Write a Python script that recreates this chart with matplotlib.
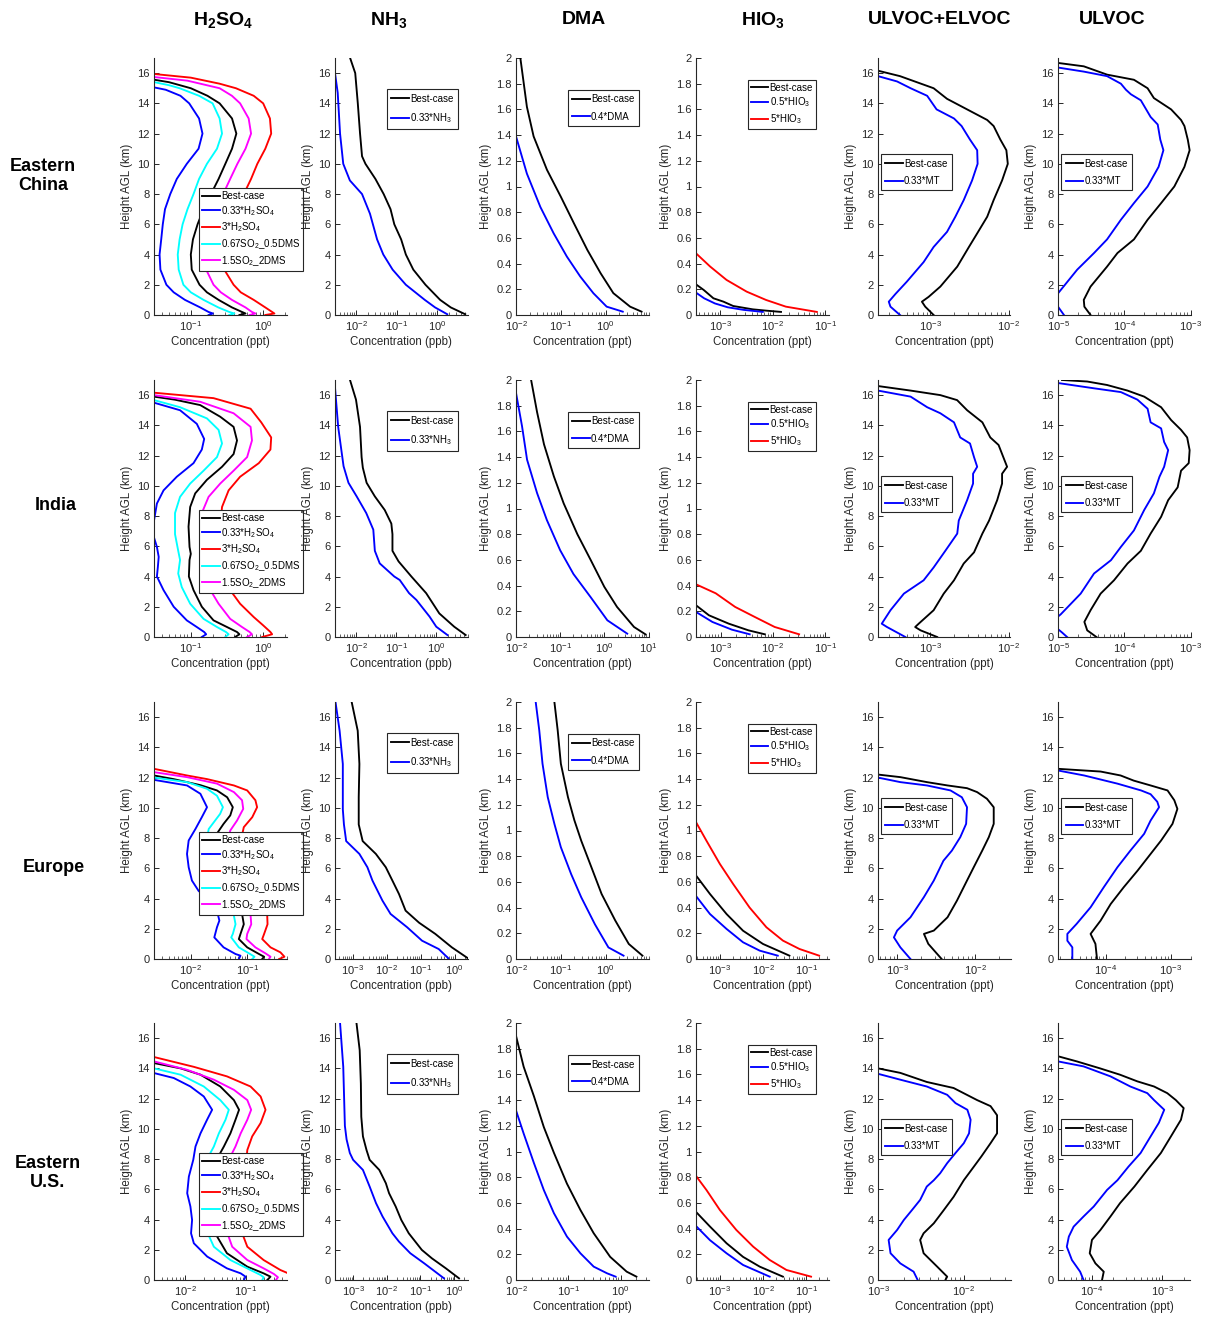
import numpy as np
import matplotlib
matplotlib.use('Agg')
import matplotlib.pyplot as plt
from matplotlib.ticker import LogLocator, NullFormatter, FixedLocator, FuncFormatter

plt.rcParams['font.family'] = ['Liberation Sans', 'DejaVu Sans']
plt.rcParams['mathtext.fontset'] = 'custom'
plt.rcParams['mathtext.rm'] = 'Liberation Sans'
plt.rcParams['mathtext.it'] = 'Liberation Sans:italic'
plt.rcParams['mathtext.bf'] = 'Liberation Sans:bold'
plt.rcParams['mathtext.default'] = 'regular'

# ---------------- labels ----------------
regions = ['Eastern\nChina', 'India', 'Europe', 'Eastern\nU.S.']
species = [r'$\mathbf{H_2SO_4}$', r'$\mathbf{NH_3}$', 'DMA', r'$\mathbf{HIO_3}$', 'ULVOC+ELVOC', 'ULVOC']
units = ['ppt', 'ppb', 'ppt', 'ppt', 'ppt', 'ppt']
sa_labels = ['Best-case', '0.33*H$_2$SO$_4$', '3*H$_2$SO$_4$', '0.67SO$_2$_0.5DMS', '1.5SO$_2$_2DMS']
nh3_labels = ['Best-case', '0.33*NH$_3$']
dma_labels = ['Best-case', '0.4*DMA']
hio3_labels = ['Best-case', '0.5*HIO$_3$', '5*HIO$_3$']
mt_labels = ['Best-case', '0.33*MT']

# ================= Row 1: Eastern China =================
ec_sa_best_h = [15.6, 15.4, 15.0, 14.5, 14, 13, 12, 11, 10, 9, 8, 7, 6, 5, 4, 3, 2, 1.5, 1, 0.5, 0.2, 0.1, 0]
ec_sa_best_c = [0.028, 0.05, 0.10, 0.17, 0.25, 0.371, 0.426, 0.371, 0.30, 0.242, 0.19, 0.15, 0.124, 0.107, 0.10, 0.103, 0.132, 0.167, 0.242, 0.371, 0.51, 0.57, 0.47]
ec_sa_low_h = [15.1, 14.9, 14.5, 14, 13, 12, 11, 10, 9, 8, 7, 6, 5, 4, 3, 2, 1.5, 1, 0.5, 0.2, 0.1, 0]
ec_sa_low_c = [0.028, 0.045, 0.072, 0.095, 0.13, 0.145, 0.128, 0.088, 0.064, 0.052, 0.044, 0.041, 0.039, 0.037, 0.038, 0.046, 0.058, 0.083, 0.135, 0.176, 0.202, 0.176]
ec_sa_high_h = [15.95, 15.7, 15.3, 15.0, 14.5, 14, 13, 12, 11, 10, 9, 8, 7, 6, 5, 4, 3, 2, 1.5, 1, 0.5, 0.2, 0.1, 0]
ec_sa_high_c = [0.03, 0.1, 0.25, 0.42, 0.74, 1.0, 1.24, 1.29, 1.07, 0.83, 0.68, 0.54, 0.44, 0.37, 0.32, 0.29, 0.29, 0.39, 0.49, 0.74, 1.07, 1.33, 1.43, 1.07]
ec_sa_so2lo_h = [15.45, 15.2, 15.0, 14.5, 14, 13, 12, 11, 10, 9, 8, 7, 6, 5, 4, 3, 2, 1.5, 1, 0.5, 0.2, 0.1, 0]
ec_sa_so2lo_c = [0.028, 0.05, 0.07, 0.13, 0.2, 0.25, 0.27, 0.23, 0.167, 0.13, 0.109, 0.09, 0.077, 0.07, 0.066, 0.068, 0.079, 0.1, 0.15, 0.24, 0.34, 0.40, 0.34]
ec_sa_so2hi_h = [15.75, 15.5, 15.0, 14.5, 14, 13, 12, 11, 10, 9, 8, 7, 6, 5, 4, 3, 2, 1.5, 1, 0.5, 0.2, 0.1, 0]
ec_sa_so2hi_c = [0.03, 0.09, 0.25, 0.37, 0.48, 0.63, 0.68, 0.57, 0.44, 0.35, 0.28, 0.23, 0.185, 0.158, 0.15, 0.163, 0.206, 0.26, 0.37, 0.57, 0.70, 0.78, 0.65]

ec_nh3_best_h = [17, 16, 14, 12, 10.5, 10, 9, 8, 7, 6, 5, 4, 3, 2, 1, 0.5, 0.05]
ec_nh3_best_c = [0.0071, 0.0095, 0.011, 0.0125, 0.014, 0.017, 0.03, 0.048, 0.071, 0.088, 0.13, 0.17, 0.26, 0.52, 1.2, 2.2, 5.0]
ec_nh3_low_h = [16.5, 16, 14.7, 12, 10, 8.9, 8, 6.7, 5, 4, 3, 2, 1, 0.5, 0.05]
ec_nh3_low_c = [0.0025, 0.003, 0.0035, 0.004, 0.0048, 0.007, 0.014, 0.022, 0.033, 0.047, 0.08, 0.17, 0.5, 0.9, 1.8]

ec_dma_best_h = [2.0, 1.62, 1.39, 1.13, 0.92, 0.71, 0.506, 0.325, 0.17, 0.065, 0.026]
ec_dma_best_c = [0.0125, 0.0175, 0.0247, 0.049, 0.1, 0.198, 0.39, 0.77, 1.48, 3.5, 6.3]
ec_dma_low_h = [1.45, 1.39, 1.1, 0.84, 0.636, 0.455, 0.3, 0.17, 0.065, 0.026]
ec_dma_low_c = [0.009, 0.01, 0.0175, 0.035, 0.069, 0.136, 0.27, 0.53, 1.05, 2.4]

ec_hio3_best_h = [0.25, 0.195, 0.13, 0.104, 0.07, 0.044, 0.034, 0.024]
ec_hio3_best_c = [3.2e-4, 4.9e-4, 7.5e-4, 1.16e-3, 1.78e-3, 4.2e-3, 7.5e-3, 0.0144]
ec_hio3_low_h = [0.185, 0.13, 0.09, 0.06, 0.04, 0.024]
ec_hio3_low_c = [3.2e-4, 5e-4, 8e-4, 1.4e-3, 2.8e-3, 6.5e-3]
ec_hio3_high_h = [0.49, 0.48, 0.377, 0.273, 0.182, 0.117, 0.065, 0.024]
ec_hio3_high_c = [3.3e-4, 3.5e-4, 6.5e-4, 1.33e-3, 3.2e-3, 7.5e-3, 0.0178, 0.069]

ec_ue_best_h = [16.2, 15.8, 15.0, 14.3, 13.6, 12.9, 12.5, 11.6, 10.9, 10.0, 8.9, 7.6, 6.5, 5.4, 4.5, 3.2, 1.88, 1.2, 0.88, 0.55, 0]
ec_ue_best_c = [2.0e-4, 4.1e-4, 1.1e-3, 1.63e-3, 2.94e-3, 5.3e-3, 6.4e-3, 7.8e-3, 9.3e-3, 9.7e-3, 8.2e-3, 6.4e-3, 5.3e-3, 3.95e-3, 3.1e-3, 2.2e-3, 1.34e-3, 9.5e-4, 7.8e-4, 8.6e-4, 1.1e-3]
ec_ue_low_h = [15.9, 15.8, 15.45, 15.0, 14.5, 13.6, 13.0, 12.5, 11.6, 10.9, 10.0, 8.9, 7.6, 6.5, 5.5, 4.5, 3.5, 2.2, 1.4, 0.88, 0.55, 0]
ec_ue_low_c = [2.0e-4, 2.15e-4, 3.76e-4, 5.6e-4, 9.1e-4, 1.2e-3, 2.0e-3, 2.5e-3, 3.2e-3, 3.95e-3, 4.0e-3, 3.4e-3, 2.66e-3, 2.08e-3, 1.63e-3, 1.1e-3, 8.2e-4, 5.0e-4, 3.6e-4, 2.95e-4, 3.1e-4, 4.1e-4]

ec_u_best_h = [16.7, 16.45, 15.9, 15.56, 15.0, 14.35, 13.6, 12.9, 12.5, 11.6, 10.9, 9.8, 8.5, 7.4, 6.3, 5.0, 4.1, 3.2, 1.88, 1.0, 0.55, 0]
ec_u_best_c = [9e-6, 2.45e-5, 5.5e-5, 1.4e-4, 2.25e-4, 2.8e-4, 5.1e-4, 7.2e-4, 8.1e-4, 9.1e-4, 9.7e-4, 8.1e-4, 5.7e-4, 3.6e-4, 2.25e-4, 1.4e-4, 7.9e-5, 5.5e-5, 3.1e-5, 2.45e-5, 2.5e-5, 3.1e-5]
ec_u_low_h = [16.4, 16.1, 15.8, 15.3, 14.9, 14.6, 14.2, 13.1, 12.6, 11.6, 10.9, 9.8, 8.5, 7.4, 6.3, 5.0, 4.1, 3.0, 1.43, 1.0, 0.55, 0]
ec_u_low_c = [9e-6, 2.45e-5, 5.5e-5, 8.9e-5, 1.06e-4, 1.26e-4, 1.78e-4, 2.5e-4, 3.2e-4, 3.5e-4, 3.9e-4, 3.3e-4, 2.25e-4, 1.4e-4, 8.9e-5, 5.5e-5, 3.5e-5, 1.95e-5, 1.0e-5, 8.5e-6, 1.0e-5, 1.23e-5]

# ================= Row 2: India =================
in_sa_best_h = [16.0, 15.9, 15.7, 15.34, 14.57, 13.9, 13.0, 12.1, 11.26, 10.4, 9.5, 8.6, 7.3, 5.96, 5.5, 5.1, 4.0, 3.1, 2.0, 1.1, 0.66, 0.33, 0.18, 0]
in_sa_best_c = [0.025, 0.031, 0.06, 0.135, 0.255, 0.39, 0.435, 0.39, 0.27, 0.167, 0.115, 0.098, 0.093, 0.096, 0.1, 0.096, 0.094, 0.109, 0.142, 0.206, 0.316, 0.435, 0.47, 0.41]
in_sa_low_h = [15.6, 15.5, 15.0, 14.1, 13.1, 12.4, 11.5, 10.6, 9.7, 8.83, 7.7, 6.8, 5.96, 5.3, 4.6, 4.0, 3.1, 2.0, 1.1, 0.66, 0.33, 0.18, 0]
in_sa_low_c = [0.025, 0.031, 0.071, 0.121, 0.153, 0.142, 0.109, 0.064, 0.042, 0.034, 0.031, 0.030, 0.034, 0.036, 0.035, 0.034, 0.042, 0.058, 0.088, 0.121, 0.153, 0.163, 0.142]
in_sa_high_h = [16.25, 16.16, 15.8, 15.1, 14.2, 13.2, 12.4, 11.5, 10.6, 9.7, 8.6, 7.3, 5.96, 5.1, 4.0, 3.1, 2.2, 1.32, 0.77, 0.33, 0.18, 0]
in_sa_high_c = [0.025, 0.031, 0.206, 0.67, 0.94, 1.29, 1.26, 0.87, 0.48, 0.333, 0.27, 0.255, 0.27, 0.284, 0.284, 0.35, 0.48, 0.74, 1.0, 1.26, 1.33, 0.97]
in_sa_so2lo_h = [15.75, 15.67, 15.2, 14.46, 13.7, 12.8, 11.9, 11.0, 10.15, 9.27, 8.2, 6.8, 5.7, 5.1, 4.2, 3.3, 2.2, 1.2, 0.66, 0.33, 0.18, 0]
in_sa_so2lo_c = [0.025, 0.031, 0.071, 0.167, 0.242, 0.27, 0.23, 0.15, 0.098, 0.071, 0.0605, 0.0605, 0.067, 0.071, 0.067, 0.075, 0.098, 0.15, 0.23, 0.306, 0.333, 0.30]
in_sa_so2hi_h = [16.1, 16.0, 15.56, 14.8, 13.9, 13.0, 11.9, 11.0, 10.15, 9.27, 8.2, 6.8, 5.7, 5.1, 4.2, 3.3, 2.2, 1.2, 0.66, 0.33, 0.18, 0]
in_sa_so2hi_c = [0.025, 0.031, 0.135, 0.39, 0.67, 0.70, 0.6, 0.39, 0.255, 0.176, 0.142, 0.142, 0.153, 0.158, 0.153, 0.176, 0.242, 0.35, 0.51, 0.65, 0.70, 0.6]

in_nh3_best_h = [17, 15.7, 13.9, 11.9, 11.2, 10.2, 9.3, 8.4, 7.5, 6.8, 5.7, 5.0, 4.0, 2.9, 1.56, 0.68, 0.13]
in_nh3_best_c = [0.0071, 0.01, 0.0126, 0.0138, 0.0148, 0.0184, 0.0295, 0.052, 0.076, 0.081, 0.081, 0.115, 0.24, 0.56, 1.19, 2.8, 5.4]
in_nh3_low_h = [16.8, 16.5, 13.9, 11.3, 10.2, 9.3, 8.2, 7.1, 5.7, 4.87, 4.0, 3.77, 2.9, 2.45, 1.35, 0.68, 0.13]
in_nh3_low_c = [0.0027, 0.003, 0.0036, 0.0049, 0.0065, 0.0104, 0.018, 0.027, 0.0295, 0.039, 0.09, 0.123, 0.21, 0.32, 0.68, 1.0, 1.9]

in_dma_best_h = [2.0, 1.75, 1.5, 1.25, 1.04, 0.8, 0.6, 0.39, 0.234, 0.078, 0.02]
in_dma_best_c = [0.022, 0.03, 0.043, 0.072, 0.12, 0.245, 0.49, 1.0, 1.94, 4.7, 8.6]
in_dma_low_h = [1.95, 1.9, 1.64, 1.38, 1.12, 0.91, 0.675, 0.49, 0.31, 0.13, 0.026]
in_dma_low_c = [0.0095, 0.01, 0.0137, 0.0178, 0.03, 0.05, 0.1, 0.2, 0.49, 1.17, 3.3]

in_hio3_best_h = [0.25, 0.247, 0.169, 0.104, 0.052, 0.021]
in_hio3_best_c = [3.3e-4, 3.4e-4, 6e-4, 1.43e-3, 3.4e-3, 7e-3]
in_hio3_low_h = [0.2, 0.195, 0.117, 0.057, 0.021]
in_hio3_low_c = [3.3e-4, 3.4e-4, 7e-4, 1.65e-3, 3.6e-3]
in_hio3_high_h = [0.415, 0.41, 0.34, 0.234, 0.156, 0.078, 0.021]
in_hio3_high_c = [3.3e-4, 3.4e-4, 8.1e-4, 1.9e-3, 4.5e-3, 0.0108, 0.0316]

in_ue_best_h = [16.7, 16.6, 16.3, 16.0, 15.67, 15.0, 14.2, 13.2, 12.7, 11.7, 11.26, 10.8, 10.15, 9.05, 7.7, 6.84, 5.6, 4.86, 3.75, 2.87, 1.77, 0.88, 0.66, 0.44, 0]
in_ue_best_c = [2.0e-4, 2.15e-4, 5.6e-4, 1.34e-3, 2.19e-3, 2.94e-3, 4.6e-3, 5.8e-3, 7.4e-3, 8.8e-3, 9.5e-3, 8.2e-3, 8.2e-3, 7.1e-3, 5.6e-3, 4.6e-3, 3.6e-3, 2.66e-3, 2.0e-3, 1.48e-3, 1.1e-3, 7.1e-4, 6.4e-4, 7.5e-4, 1.22e-3]
in_ue_low_h = [16.4, 16.3, 15.9, 15.2, 14.8, 14.2, 13.2, 12.8, 11.9, 11.26, 10.8, 10.15, 9.05, 7.7, 6.84, 5.7, 4.6, 3.75, 2.87, 1.77, 0.88, 0.66, 0]
in_ue_low_c = [2.0e-4, 2.15e-4, 5.6e-4, 9.1e-4, 1.34e-3, 2.0e-3, 2.4e-3, 3.2e-3, 3.6e-3, 3.95e-3, 3.5e-3, 3.5e-3, 2.94e-3, 2.3e-3, 2.2e-3, 1.55e-3, 1.1e-3, 8.2e-4, 4.6e-4, 3.1e-4, 2.4e-4, 2.8e-4, 4.8e-4]

in_u_best_h = [17.0, 16.9, 16.67, 16.3, 15.9, 15.2, 14.35, 13.7, 13.2, 12.36, 11.5, 11.0, 9.9, 9.05, 7.95, 6.84, 5.7, 4.86, 3.75, 2.87, 1.77, 1.0, 0.44, 0]
in_u_best_c = [1.15e-5, 2.76e-5, 5.5e-5, 1.12e-4, 2.0e-4, 3.6e-4, 5.1e-4, 7.2e-4, 8.9e-4, 9.7e-4, 9.4e-4, 7.2e-4, 6.4e-4, 4.6e-4, 3.6e-4, 2.5e-4, 1.78e-4, 1.12e-4, 7.0e-5, 4.4e-5, 3.1e-5, 2.5e-5, 2.76e-5, 3.8e-5]
in_u_low_h = [16.85, 16.8, 16.45, 16.2, 15.7, 15.1, 14.2, 13.8, 12.9, 12.36, 11.26, 10.6, 9.5, 8.4, 7.05, 5.96, 5.08, 4.2, 2.87, 1.5, 1.0, 0.6, 0.3, 0]
in_u_low_c = [9e-6, 1.0e-5, 3.5e-5, 8.9e-5, 1.58e-4, 2.25e-4, 2.5e-4, 3.6e-4, 4.0e-4, 4.6e-4, 4.0e-4, 3.4e-4, 2.8e-4, 2.0e-4, 1.4e-4, 8.9e-5, 6.3e-5, 3.5e-5, 2.2e-5, 1.1e-5, 8e-6, 9.5e-6, 1.15e-5, 1.37e-5]

# ================= Row 3: Europe =================
eu_sa_best_h = [12.25, 12.14, 11.9, 11.5, 11.15, 10.7, 10.04, 9.5, 8.94, 8.3, 7, 6, 5, 4, 2.98, 2.3, 1.66, 1.32, 0.77, 0.33, 0.15, 0]
eu_sa_best_c = [0.0018, 0.0022, 0.0049, 0.0147, 0.029, 0.044, 0.0555, 0.050, 0.038, 0.029, 0.026, 0.026, 0.031, 0.05, 0.081, 0.087, 0.076, 0.071, 0.1, 0.162, 0.2, 0.185]
eu_sa_low_h = [11.95, 11.85, 11.48, 10.93, 10.04, 9.4, 8.6, 7.84, 6.95, 6.07, 5.19, 4.5, 3.86, 3.2, 2.54, 2.1, 1.43, 0.77, 0.33, 0.22, 0]
eu_sa_low_c = [0.0018, 0.0022, 0.0085, 0.0147, 0.0193, 0.0157, 0.012, 0.0091, 0.0085, 0.0091, 0.0104, 0.0137, 0.0221, 0.029, 0.032, 0.029, 0.026, 0.038, 0.062, 0.076, 0.071]
eu_sa_high_h = [12.65, 12.58, 12.14, 11.9, 11.48, 11.15, 10.5, 10.04, 9.38, 8.72, 7, 6, 5, 4, 2.87, 2.3, 1.66, 1.32, 0.77, 0.44, 0.15, 0]
eu_sa_high_c = [0.0018, 0.0022, 0.0085, 0.0193, 0.058, 0.1, 0.14, 0.15, 0.123, 0.087, 0.069, 0.07, 0.083, 0.14, 0.227, 0.23, 0.2, 0.185, 0.26, 0.39, 0.46, 0.37]
eu_sa_so2lo_h = [12.1, 12.0, 11.7, 11.26, 10.8, 10.04, 9.6, 8.6, 7, 6, 5, 4, 2.87, 2.3, 1.66, 1.43, 0.77, 0.38, 0.15, 0]
eu_sa_so2lo_c = [0.0018, 0.0022, 0.0085, 0.0193, 0.029, 0.037, 0.033, 0.0207, 0.017, 0.017, 0.021, 0.034, 0.058, 0.062, 0.0555, 0.052, 0.071, 0.107, 0.135, 0.123]
eu_sa_so2hi_h = [12.45, 12.36, 12.03, 11.6, 11.04, 10.5, 9.93, 9.16, 8.5, 7, 6, 5, 4, 2.87, 2.3, 1.66, 1.32, 0.77, 0.38, 0.15, 0]
eu_sa_so2hi_c = [0.0018, 0.0022, 0.0085, 0.029, 0.058, 0.081, 0.085, 0.066, 0.050, 0.039, 0.04, 0.047, 0.08, 0.115, 0.118, 0.1, 0.097, 0.14, 0.21, 0.26, 0.244]

eu_nh3_best_h = [17, 15.1, 12.9, 10.7, 8.9, 7.8, 6.95, 6.07, 5.19, 4.3, 3.2, 2.4, 1.66, 0.77, 0.04]
eu_nh3_best_c = [9.3e-4, 1.4e-3, 1.57e-3, 1.5e-3, 1.5e-3, 1.96e-3, 4.8e-3, 9.4e-3, 0.0147, 0.023, 0.036, 0.09, 0.27, 0.83, 2.5]
eu_nh3_low_h = [17, 15.1, 12.9, 9.9, 8.9, 7.8, 6.95, 6.07, 5.19, 3.86, 2.98, 2.1, 1.21, 0.66, 0.04]
eu_nh3_low_c = [3.1e-4, 4.1e-4, 5.1e-4, 5.1e-4, 5.5e-4, 6.4e-4, 1.57e-3, 2.7e-3, 3.8e-3, 7.5e-3, 0.013, 0.04, 0.11, 0.34, 0.66]

eu_dma_best_h = [2.0, 1.78, 1.52, 1.26, 1.08, 0.92, 0.714, 0.506, 0.3, 0.117, 0.026]
eu_dma_best_c = [0.0718, 0.085, 0.1, 0.144, 0.2, 0.285, 0.48, 0.81, 1.63, 3.27, 6.6]
eu_dma_low_h = [2.0, 1.78, 1.52, 1.26, 1.05, 0.87, 0.66, 0.48, 0.27, 0.09, 0.026]
eu_dma_low_c = [0.0275, 0.033, 0.039, 0.051, 0.072, 0.1, 0.17, 0.285, 0.575, 1.15, 2.5]

eu_hio3_best_h = [0.66, 0.65, 0.506, 0.35, 0.22, 0.117, 0.026]
eu_hio3_best_c = [2.7e-4, 2.8e-4, 5.9e-4, 1.43e-3, 3.45e-3, 0.01, 0.041]
eu_hio3_low_h = [0.5, 0.49, 0.35, 0.234, 0.13, 0.065, 0.026]
eu_hio3_low_c = [2.7e-4, 2.8e-4, 5.9e-4, 1.43e-3, 3.45e-3, 8.4e-3, 0.022]
eu_hio3_high_h = [1.07, 1.065, 0.92, 0.74, 0.584, 0.4, 0.247, 0.143, 0.078, 0.026]
eu_hio3_high_c = [2.7e-4, 2.8e-4, 4.9e-4, 1e-3, 2.03e-3, 4.9e-3, 0.012, 0.029, 0.07, 0.2]

eu_ue_best_h = [12.3, 12.2, 12.03, 11.7, 11.48, 11.3, 11.04, 10.6, 10.04, 8.94, 8.06, 7.17, 6.07, 5.19, 3.86, 2.76, 1.88, 1.66, 1.0, 0]
eu_ue_best_c = [5.0e-4, 5.7e-4, 1.1e-3, 2.4e-3, 4.4e-3, 7.8e-3, 0.0105, 0.014, 0.0171, 0.0171, 0.0148, 0.0122, 9.5e-3, 7.8e-3, 5.8e-3, 4.4e-3, 2.94e-3, 2.2e-3, 2.5e-3, 3.7e-3]
eu_ue_low_h = [12.1, 12.0, 11.7, 11.48, 11.15, 10.7, 10.04, 8.94, 8.06, 7.17, 6.5, 5.19, 4.1, 2.76, 1.88, 1.43, 0.77, 0]
eu_ue_low_c = [5.0e-4, 5.7e-4, 1.1e-3, 2.4e-3, 4.8e-3, 6.7e-3, 7.8e-3, 7.6e-3, 6.4e-3, 5.0e-3, 3.9e-3, 2.94e-3, 2.2e-3, 1.48e-3, 1.0e-3, 9.1e-4, 1.1e-3, 1.48e-3]

eu_u_best_h = [12.65, 12.58, 12.4, 12.14, 11.8, 11.48, 11.15, 10.5, 9.93, 8.94, 7.84, 6.95, 5.85, 4.75, 3.64, 2.54, 1.66, 1.0, 0]
eu_u_best_c = [1.6e-5, 1.87e-5, 8.4e-5, 1.7e-4, 2.7e-4, 4.9e-4, 8.9e-4, 1.13e-3, 1.26e-3, 1.06e-3, 7.1e-4, 4.9e-4, 3.1e-4, 1.9e-4, 1.2e-4, 8.4e-5, 5.9e-5, 7.0e-5, 7.4e-5]
eu_u_low_h = [12.55, 12.47, 12.14, 11.6, 11.15, 10.9, 10.4, 10.04, 9.16, 8.28, 7.17, 6.07, 4.75, 3.42, 2.32, 1.66, 1.21, 0.77, 0]
eu_u_low_c = [1.6e-5, 1.87e-5, 4.7e-5, 1.52e-4, 3.5e-4, 4.9e-4, 6.2e-4, 6.6e-4, 4.9e-4, 3.9e-4, 2.4e-4, 1.52e-4, 9.4e-5, 5.9e-5, 3.6e-5, 2.6e-5, 2.6e-5, 3.1e-5, 3.1e-5]

# ================= Row 4: Eastern U.S. =================
us_sa_best_h = [14.45, 14.35, 14.0, 13.58, 12.8, 11.9, 11.26, 10.6, 9.7, 8.83, 8.4, 7, 6, 5, 4, 2.87, 1.77, 0.88, 0.44, 0.22, 0]
us_sa_best_c = [0.0025, 0.003, 0.0083, 0.0178, 0.038, 0.064, 0.078, 0.068, 0.056, 0.0436, 0.038, 0.034, 0.031, 0.032, 0.035, 0.0337, 0.049, 0.107, 0.2, 0.26, 0.23]
us_sa_low_h = [13.8, 13.69, 13.36, 12.8, 12.14, 11.26, 10.6, 9.7, 8.83, 7.95, 6.84, 5.74, 4.86, 3.97, 3.09, 2.43, 1.55, 0.77, 0.44, 0.22, 0]
us_sa_low_c = [0.0025, 0.003, 0.0064, 0.0121, 0.0202, 0.0278, 0.0229, 0.0178, 0.0147, 0.0135, 0.0114, 0.0107, 0.0121, 0.0129, 0.0124, 0.0138, 0.023, 0.049, 0.083, 0.1, 0.094]
us_sa_high_h = [14.85, 14.75, 14.1, 13.47, 12.8, 12.14, 11.26, 10.38, 9.5, 8.6, 7, 6, 5, 4, 3.09, 2.2, 1.32, 0.66, 0.49, 0.25, 0]
us_sa_high_c = [0.0025, 0.003, 0.0138, 0.049, 0.121, 0.178, 0.215, 0.178, 0.129, 0.107, 0.098, 0.09, 0.095, 0.1, 0.088, 0.107, 0.2, 0.38, 0.48, 0.62, 0.58]
us_sa_so2lo_h = [14.1, 14.0, 13.58, 12.8, 11.9, 11.26, 10.6, 9.7, 8.83, 8.4, 7, 6, 5, 4, 3.09, 2.2, 1.32, 0.66, 0.33, 0.18, 0]
us_sa_so2lo_c = [0.0025, 0.003, 0.0083, 0.0202, 0.038, 0.0527, 0.0464, 0.036, 0.0297, 0.026, 0.024, 0.022, 0.023, 0.024, 0.0235, 0.0297, 0.056, 0.121, 0.178, 0.2, 0.19]
us_sa_so2hi_h = [14.55, 14.46, 13.9, 13.25, 12.58, 11.9, 11.26, 10.6, 9.7, 8.83, 8.4, 7, 6, 5, 4, 3.09, 2.2, 1.32, 0.77, 0.4, 0.18, 0]
us_sa_so2hi_c = [0.0025, 0.003, 0.0107, 0.0297, 0.064, 0.107, 0.124, 0.107, 0.083, 0.068, 0.06, 0.052, 0.048, 0.053, 0.056, 0.05, 0.06, 0.107, 0.2, 0.296, 0.346, 0.32]

us_nh3_best_h = [17, 15.2, 13.0, 10.8, 9.5, 8.6, 7.95, 7.28, 6.4, 5.74, 4.86, 3.97, 3.09, 1.99, 1.43, 0.77, 0.11]
us_nh3_best_c = [1.26e-3, 1.57e-3, 1.7e-3, 1.75e-3, 1.96e-3, 2.5e-3, 3.1e-3, 6e-3, 9.4e-3, 0.0117, 0.0184, 0.027, 0.045, 0.11, 0.22, 0.57, 1.4]
us_nh3_low_h = [17, 14.1, 10.2, 9.3, 8.4, 7.95, 7.28, 6.18, 5.08, 4.2, 3.09, 2.54, 1.77, 1.1, 0.11]
us_nh3_low_c = [4.1e-4, 5.1e-4, 5.7e-4, 6.4e-4, 8e-4, 1e-3, 1.96e-3, 3.1e-3, 4.8e-3, 7.5e-3, 0.0147, 0.023, 0.05, 0.13, 0.5]

us_dma_best_h = [1.95, 1.9, 1.66, 1.43, 1.19, 0.99, 0.75, 0.545, 0.364, 0.18, 0.065, 0.026]
us_dma_best_c = [0.0095, 0.01, 0.014, 0.022, 0.034, 0.053, 0.094, 0.17, 0.305, 0.63, 1.3, 2.0]
us_dma_low_h = [1.35, 1.32, 1.14, 0.91, 0.7, 0.52, 0.338, 0.208, 0.104, 0.052, 0.026]
us_dma_low_c = [0.0095, 0.01, 0.014, 0.022, 0.034, 0.053, 0.094, 0.17, 0.305, 0.55, 0.8]

us_hio3_best_h = [0.54, 0.53, 0.416, 0.286, 0.18, 0.104, 0.026]
us_hio3_best_c = [2.7e-4, 2.8e-4, 5.9e-4, 1.43e-3, 3.45e-3, 8.4e-3, 0.029]
us_hio3_low_h = [0.43, 0.42, 0.31, 0.208, 0.117, 0.026]
us_hio3_low_c = [2.7e-4, 2.8e-4, 5.9e-4, 1.43e-3, 3.45e-3, 0.0143]
us_hio3_high_h = [0.82, 0.81, 0.7, 0.545, 0.39, 0.26, 0.156, 0.078, 0.026]
us_hio3_high_c = [2.7e-4, 2.8e-4, 4.9e-4, 1e-3, 2.4e-3, 5.9e-3, 0.0143, 0.035, 0.13]

us_ue_best_h = [14.1, 14.0, 13.7, 13.1, 12.7, 11.9, 11.5, 10.9, 9.7, 9.05, 8.17, 7.5, 6.6, 5.5, 4.6, 3.75, 3.09, 2.65, 1.77, 0.88, 0.22, 0]
us_ue_best_c = [9e-4, 1e-3, 1.82e-3, 3.7e-3, 7.6e-3, 0.0143, 0.0205, 0.0244, 0.0244, 0.0205, 0.016, 0.0131, 0.01, 7.6e-3, 5.8e-3, 4.47e-3, 3.4e-3, 3.1e-3, 3.4e-3, 4.9e-3, 6.4e-3, 6.1e-3]
us_ue_low_h = [13.75, 13.64, 13.25, 12.8, 12.25, 11.7, 11.26, 10.6, 9.7, 9.05, 8.4, 7.73, 7.06, 6.6, 6.18, 5.3, 4.64, 3.97, 3.31, 2.65, 1.77, 1.1, 0.55, 0]
us_ue_low_c = [9e-4, 1e-3, 1.82e-3, 3.7e-3, 6.4e-3, 8.0e-3, 0.011, 0.012, 0.0115, 0.01, 8e-3, 6.4e-3, 5.3e-3, 4.47e-3, 3.7e-3, 3.1e-3, 2.5e-3, 2.0e-3, 1.67e-3, 1.33e-3, 1.4e-3, 1.82e-3, 2.6e-3, 2.9e-3]

us_u_best_h = [14.9, 14.8, 14.46, 14.0, 13.58, 13.14, 12.8, 12.36, 11.9, 11.37, 10.6, 9.5, 8.4, 7.28, 6.18, 5.08, 4.2, 3.31, 2.65, 1.77, 1.1, 0.55, 0]
us_u_best_c = [3e-5, 3.3e-5, 6.1e-5, 1.3e-4, 2.5e-4, 4.4e-4, 7.6e-4, 1.17e-3, 1.55e-3, 2.0e-3, 1.83e-3, 1.32e-3, 9.5e-4, 6.1e-4, 4.0e-4, 2.5e-4, 1.83e-4, 1.32e-4, 1e-4, 9.3e-5, 1.12e-4, 1.47e-4, 1.39e-4]
us_u_low_h = [14.55, 14.46, 14.13, 13.47, 12.8, 12.36, 11.9, 11.26, 10.4, 9.5, 8.4, 7.5, 6.6, 5.96, 4.86, 4.2, 3.53, 2.87, 2.2, 1.32, 0.55, 0]
us_u_low_c = [3e-5, 3.3e-5, 7.6e-5, 1.83e-4, 3.5e-4, 6.1e-4, 7.6e-4, 1.06e-3, 8.9e-4, 6.8e-4, 4.9e-4, 3.3e-4, 2.3e-4, 1.64e-4, 1.06e-4, 7.6e-5, 5.5e-5, 4.7e-5, 4.4e-5, 5.2e-5, 6.8e-5, 7.6e-5]

# ---------------- assemble (styles kept separate) ----------------
BLK, BLU, RED, CYN, MAG = '#000000', '#0000ff', '#ff0000', '#00ffff', '#ff00ff'
sa_colors = [BLK, BLU, RED, CYN, MAG]
two_colors = [BLK, BLU]
hio3_colors = [BLK, BLU, RED]

g = globals()
def curves(prefix, kinds):
    return [(g[prefix + '_' + k + '_h'], g[prefix + '_' + k + '_c']) for k in kinds]

row_prefix = ['ec', 'in', 'eu', 'us']
col_spec = [
    ('sa', ['best', 'low', 'high', 'so2lo', 'so2hi'], sa_colors, sa_labels),
    ('nh3', ['best', 'low'], two_colors, nh3_labels),
    ('dma', ['best', 'low'], two_colors, dma_labels),
    ('hio3', ['best', 'low', 'high'], hio3_colors, hio3_labels),
    ('ue', ['best', 'low'], two_colors, mt_labels),
    ('u', ['best', 'low'], two_colors, mt_labels),
]
xlims = [
    [(0.031, 2.1), (0.003, 5.7), (0.01, 9.0), (3.5e-4, 0.115), (2.15e-4, 0.0105), (1e-5, 1e-3)],
    [(0.031, 2.1), (0.003, 6.0), (0.01, 10.0), (3.4e-4, 0.115), (2.15e-4, 0.0105), (1e-5, 1e-3)],
    [(0.0022, 0.5), (3.0e-4, 2.4), (0.01, 9.0), (2.8e-4, 0.33), (5.7e-4, 0.028), (1.87e-5, 2.0e-3)],
    [(0.003, 0.48), (2.9e-4, 2.5), (0.01, 3.4), (2.8e-4, 0.33), (1e-3, 0.035), (3.3e-5, 2.5e-3)],
]
leg_anchor = [(0.341, 0.494), (0.39, 0.878), (0.39, 0.875), (0.39, 0.915), (0.02, 0.625), (0.025, 0.625)]
leg_spacing = [0.3, 0.75, 0.75, 0.3, 0.75, 0.75]
leg_pad = [0.3, 0.45, 0.45, 0.3, 0.45, 0.45]

W, H = 1207, 1327
col_left = [154, 335, 516, 696, 878, 1058]
row_top = [58, 380, 702, 1023]
aw, ah = 132.5, 257
AXC = '#262626'

fig = plt.figure(figsize=(W / 100, H / 100), dpi=100)

for r in range(4):
    for c in range(6):
        ax = fig.add_axes([col_left[c] / W, 1 - (row_top[r] + ah) / H, aw / W, ah / H])
        key, kinds, cols, labs = col_spec[c]
        data = curves(row_prefix[r] + '_' + key, kinds)
        for (hh, cc), colr, lab in zip(data, cols, labs):
            assert len(hh) == len(cc)
            ax.plot(cc, hh, color=colr, lw=1.35, label=lab, solid_joinstyle='round')
        ax.set_xscale('log')
        ax.set_xlim(*xlims[r][c])
        if c in (2, 3):
            ax.set_ylim(0, 2)
            ax.yaxis.set_major_locator(FixedLocator(np.arange(0, 2.01, 0.2)))
        else:
            ax.set_ylim(0, 17)
            ax.yaxis.set_major_locator(FixedLocator(np.arange(0, 17, 2)))
        ax.yaxis.set_major_formatter(FuncFormatter(lambda v, p: '%g' % round(v, 2)))
        ax.xaxis.set_major_locator(LogLocator(base=10, numticks=20))
        ax.xaxis.set_minor_locator(LogLocator(base=10, subs=np.arange(2, 10), numticks=20))
        ax.xaxis.set_minor_formatter(NullFormatter())
        for s in ('top', 'right'):
            ax.spines[s].set_visible(False)
        for s in ('left', 'bottom'):
            ax.spines[s].set_color(AXC)
            ax.spines[s].set_linewidth(0.8)
        ax.tick_params(which='major', direction='in', length=3.5, width=0.7, colors=AXC,
                       labelsize=8, pad=3)
        ax.tick_params(which='minor', direction='in', length=2, width=0.5, colors=AXC)
        ax.set_ylabel('Height AGL (km)', fontsize=8.3, color=AXC, labelpad=3)
        ax.set_xlabel('Concentration (%s)' % units[c], fontsize=8.3, color=AXC, labelpad=2)
        leg = ax.legend(loc='upper left', bbox_to_anchor=leg_anchor[c], fontsize=7,
                        frameon=True, fancybox=False, framealpha=1, edgecolor=AXC,
                        borderpad=leg_pad[c], handlelength=1.8, handletextpad=0.15,
                        labelspacing=leg_spacing[c], borderaxespad=0)
        leg.get_frame().set_linewidth(0.8)
        leg.set_zorder(10)

# column titles
title_x = [223, 389, 584, 763, 940, 1112]
for x, t in zip(title_x, species):
    fig.text(x / W, 1 - 20 / H, t, ha='center', va='center', fontsize=14, fontweight='bold')

# row labels
lab_pos = [(43, 176), (56, 506), (54, 868), (48, 1173)]
for (x, y), t in zip(lab_pos, regions):
    fig.text(x / W, 1 - y / H, t, ha='center', va='center', fontsize=13, fontweight='bold',
             linespacing=1.15)

fig.savefig('out.png', dpi=100)
